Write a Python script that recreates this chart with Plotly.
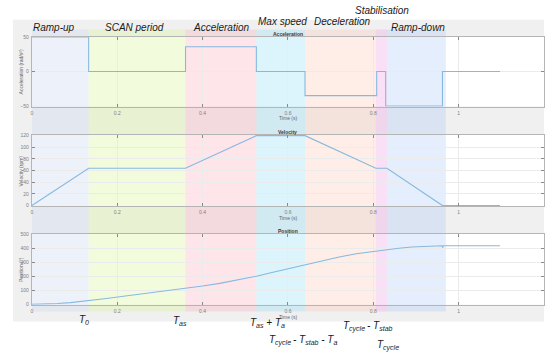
import plotly.graph_objects as go

# ---------------- data ----------------
acc_t = [0, 0.133, 0.133, 0.36, 0.36, 0.526, 0.526, 0.64, 0.64, 0.808, 0.808, 0.829, 0.829, 0.962, 0.962, 1.097]
acc_v = [50, 50, 0, 0, 36, 36, 0, 0, -35, -35, 0, 0, -50, -50, 0, 0]

vel_t = [0, 0.133, 0.36, 0.526, 0.64, 0.806, 0.832, 0.962, 1.097]
vel_v = [0, 64, 64, 120, 120, 64, 64, 0, 0]

pos_t = [0, 0.03, 0.06, 0.09, 0.12, 0.133, 0.17, 0.21, 0.25, 0.29, 0.33, 0.36, 0.40, 0.44,
         0.48, 0.526, 0.56, 0.60, 0.64, 0.68, 0.72, 0.76, 0.806, 0.832, 0.86, 0.89, 0.92,
         0.945, 0.961, 0.9625, 0.964, 1.097]
pos_v = [0, 1.5, 5, 11, 20, 25, 39, 55, 70, 86, 101, 113, 130, 149,
         171, 200, 225, 254, 283, 311, 337, 360, 380, 390, 400, 409, 414,
         416, 417, 404, 417, 417]

phase_names = ["Ramp-up", "SCAN period", "Acceleration", "Max speed", "Deceleration",
               "Stabilisation", "Ramp-down"]
phase_start = [0, 0.133, 0.36, 0.526, 0.64, 0.806, 0.832]
phase_end = [0.133, 0.36, 0.526, 0.64, 0.806, 0.832, 0.97]
phase_colors = ["rgba(200,215,240,0.32)", "rgba(215,245,150,0.32)", "rgba(250,160,175,0.28)",
                "rgba(140,220,245,0.30)", "rgba(250,195,170,0.28)", "rgba(235,160,230,0.32)",
                "rgba(170,200,250,0.30)"]

time_labels = ["<i>T<sub>0</sub></i>", "<i>T<sub>as</sub></i>", "<i>T<sub>as</sub> + T<sub>a</sub></i>",
               "<i>T<sub>cycle </sub>- T<sub>stab</sub> - T<sub>a</sub></i>",
               "<i>T<sub>cycle </sub>- T<sub>stab</sub></i>", "<i>T<sub>cycle</sub></i>"]

x_ticks = [0, 0.2, 0.4, 0.6, 0.8, 1.0, 1.2]
x_ticktext = ["0", "0.2", "0.4", "0.6", "0.8", "1", "1.2"]

panel_titles = ["Acceleration", "Velocity", "Position"]
y_titles = ["Acceleration (rad/s²)", "Velocity (rpm)", "Position (°)"]

# ---------------- layout helpers ----------------
W, H = 545, 355
def px(x):
    return x / W
def py(y):
    return 1 - y / H

LINE = "#86b9e0"
dom_x = [px(31), 1.0]
dom_y = [[py(105), py(34)], [py(206), py(134)], [py(306), py(234)]]
ranges = [[-50.8, 50.8], [-0.9, 120.9], [-3.5, 503.5]]
dticks = [50, 20, 100]

fig = go.Figure()
series = [(acc_t, acc_v), (vel_t, vel_v), (pos_t, pos_v)]
for i, (t, v) in enumerate(series):
    sfx = "" if i == 0 else str(i + 1)
    fig.add_trace(go.Scatter(x=t, y=v, mode="lines", line=dict(color=LINE, width=1.1),
                             xaxis="x" + sfx, yaxis="y" + sfx, showlegend=False,
                             hoverinfo="skip"))

axis_common = dict(showline=True, linecolor="#b5b5b5", linewidth=1, mirror="ticks",
                   ticks="inside", ticklen=3, tickcolor="#8a8a8a", tickwidth=1,
                   showgrid=True, gridcolor="#ebebeb", gridwidth=1, zeroline=False,
                   tickfont=dict(size=5, color="#808080", family="Liberation Sans"))

layout = dict(width=W, height=H, margin=dict(l=0, r=0, t=0, b=0),
              paper_bgcolor="white", plot_bgcolor="rgba(0,0,0,0)", showlegend=False)

for i in range(3):
    sfx = "" if i == 0 else str(i + 1)
    layout["xaxis" + sfx] = dict(axis_common, domain=dom_x, range=[0, 1.2], tickvals=x_ticks,
                                 ticktext=x_ticktext, anchor="y" + sfx, ticklabelstandoff=1)
    layout["yaxis" + sfx] = dict(axis_common, domain=dom_y[i], range=ranges[i], dtick=dticks[i],
                                 anchor="x" + sfx, ticklabelstandoff=1)

shapes = []
# grey figure window
shapes.append(dict(type="rect", xref="paper", yref="paper", x0=px(12), x1=1.0,
                   y0=py(323), y1=py(17), fillcolor="#f0f0f0", line=dict(width=0), layer="below"))
# white axes backgrounds
for d in dom_y:
    shapes.append(dict(type="rect", xref="paper", yref="paper", x0=dom_x[0], x1=dom_x[1],
                       y0=d[0], y1=d[1], fillcolor="white", line=dict(width=0), layer="below"))
# phase bands
for s, e, c in zip(phase_start, phase_end, phase_colors):
    shapes.append(dict(type="rect", xref="x", yref="paper", x0=s, x1=e, y0=py(313), y1=py(27),
                       fillcolor=c, line=dict(width=0), layer="below"))
layout["shapes"] = shapes

ann = []
lab_font = dict(size=10, color="#1a1a1a", family="Liberation Sans")
label_pos = [(0.051, 25), (0.241, 25), (0.442, 25), (0.587, 19), (0.727, 19), (0.82, 8), (0.904, 25)]
for name, (lx, ly) in zip(phase_names, label_pos):
    ann.append(dict(text="<i>" + name + "</i>", xref="x", yref="paper", x=lx, y=py(ly),
                    showarrow=False, font=lab_font, xanchor="center", yanchor="middle"))

tl_pos = [(83, 322), (180, 323), (267, 325), (303, 342), (368, 328), (388, 347)]
for txt, (lx, ly) in zip(time_labels, tl_pos):
    ann.append(dict(text=txt, xref="paper", yref="paper", x=px(lx), y=py(ly),
                    showarrow=False, font=lab_font, xanchor="center", yanchor="middle"))

small = dict(size=5, color="#666666", family="Liberation Sans")
tops = [34, 134, 234]
bots = [105, 206, 306]
for i in range(3):
    ann.append(dict(text="<b>" + panel_titles[i] + "</b>", xref="paper", yref="paper",
                    x=px(288), y=py(tops[i] - 3), showarrow=False,
                    font=dict(size=5, color="#3a3a3a", family="Liberation Sans"),
                    xanchor="center", yanchor="middle"))
    ann.append(dict(text="Time (s)", xref="paper", yref="paper", x=px(288), y=py(bots[i] + 12),
                    showarrow=False, font=small, xanchor="center", yanchor="middle"))
    ann.append(dict(text=y_titles[i], xref="paper", yref="paper", x=px(20),
                    y=py((tops[i] + bots[i]) / 2), showarrow=False, font=small, textangle=-90,
                    xanchor="center", yanchor="middle"))
layout["annotations"] = ann

fig.update_layout(**layout)
fig.write_html("out.html", config={"displayModeBar": False},
               post_script="document.body.style.margin='0px';document.body.style.overflow='hidden';")
